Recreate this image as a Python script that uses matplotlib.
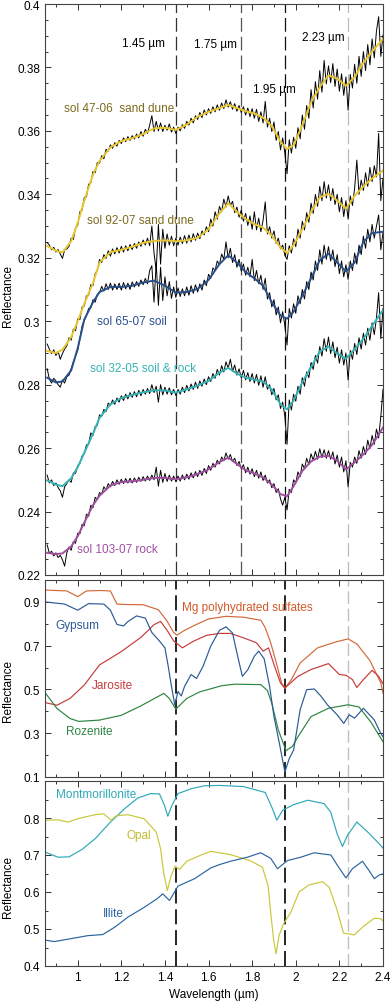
import numpy as np
import matplotlib
matplotlib.use("Agg")
import matplotlib.pyplot as plt
from matplotlib.ticker import MultipleLocator, FixedLocator, FuncFormatter

plt.rcParams['font.family'] = ['Liberation Sans', 'DejaVu Sans']
plt.rcParams['font.size'] = 8.5

# --- Pancam spectra (top panel) ---
# smooth fits
wl_fit = [0.86, 0.90, 0.93, 0.97, 1.00, 1.03, 1.07, 1.10, 1.15, 1.20, 1.25, 1.30, 1.35, 1.40,
          1.45, 1.50, 1.55, 1.60, 1.65, 1.69, 1.73, 1.77, 1.81, 1.85, 1.89, 1.93, 1.96, 1.99,
          2.03, 2.07, 2.11, 2.15, 2.19, 2.23, 2.27, 2.31, 2.35, 2.40]
fit_47 = [0.3237, 0.3222, 0.3217, 0.3252, 0.3310, 0.3380, 0.3462, 0.3505, 0.3548, 0.3568,
          0.3577, 0.3590, 0.3608, 0.3610, 0.3603, 0.3620, 0.3645, 0.3660, 0.3672, 0.3682,
          0.3672, 0.3662, 0.3655, 0.3642, 0.3615, 0.3565, 0.3543, 0.3555, 0.3618, 0.3690,
          0.3738, 0.3775, 0.3765, 0.3742, 0.3770, 0.3815, 0.3850, 0.3890]
fit_92 = [0.2906, 0.2900, 0.2910, 0.2950, 0.3000, 0.3055, 0.3120, 0.3185, 0.3218, 0.3225,
          0.3235, 0.3247, 0.3253, 0.3255, 0.3252, 0.3255, 0.3263, 0.3290, 0.3340, 0.3372,
          0.3345, 0.3322, 0.3306, 0.3295, 0.3270, 0.3232, 0.3215, 0.3240, 0.3290, 0.3344,
          0.3390, 0.3402, 0.3380, 0.3355, 0.3395, 0.3425, 0.3450, 0.3475]
fit_65 = [0.2822, 0.2807, 0.2810, 0.2845, 0.2915, 0.3005, 0.3060, 0.3092, 0.3108, 0.3108,
          0.3112, 0.3122, 0.3128, 0.3112, 0.3090, 0.3092, 0.3102, 0.3130, 0.3180, 0.3208,
          0.3185, 0.3155, 0.3135, 0.3112, 0.3060, 0.3018, 0.3008, 0.3030, 0.3080, 0.3135,
          0.3192, 0.3213, 0.3185, 0.3157, 0.3185, 0.3250, 0.3278, 0.3282]
fit_32 = [0.2498, 0.2485, 0.2480, 0.2505, 0.2540, 0.2585, 0.2645, 0.2695, 0.2738, 0.2758,
          0.2768, 0.2776, 0.2782, 0.2782, 0.2775, 0.2785, 0.2797, 0.2812, 0.2838, 0.2853,
          0.2835, 0.2822, 0.2816, 0.2810, 0.2785, 0.2738, 0.2722, 0.2750, 0.2808, 0.2855,
          0.2905, 0.2920, 0.2898, 0.2882, 0.2912, 0.2945, 0.2985, 0.3035]
fit_103 = [0.2270, 0.2266, 0.2268, 0.2290, 0.2322, 0.2365, 0.2420, 0.2450, 0.2482, 0.2493,
           0.2495, 0.2500, 0.2506, 0.2506, 0.2502, 0.2508, 0.2518, 0.2533, 0.2556, 0.2570,
           0.2550, 0.2530, 0.2520, 0.2508, 0.2485, 0.2455, 0.2448, 0.2480, 0.2528, 0.2558,
           0.2573, 0.2576, 0.2560, 0.2533, 0.2555, 0.2580, 0.2610, 0.2665]

# raw (noisy) spectra, every 0.01 um from 0.86 to 2.40
wl_raw = np.round(np.arange(0.86, 2.4005, 0.01), 2)
raw_47 = [0.3248, 0.3240, 0.3225, 0.3233, 0.3218, 0.3226, 0.3212, 0.3198, 0.3225, 0.3228,
          0.3236, 0.3262, 0.3258, 0.3295, 0.3302, 0.3345, 0.3350, 0.3390, 0.3392, 0.3432,
          0.3436, 0.3472, 0.3468, 0.3500, 0.3498, 0.3522, 0.3512, 0.3542, 0.3536, 0.3556,
          0.3545, 0.3563, 0.3552, 0.3570, 0.3560, 0.3578, 0.3566, 0.3582, 0.3570, 0.3585,
          0.3574, 0.3590, 0.3578, 0.3598, 0.3583, 0.3605, 0.3592, 0.3618, 0.3648, 0.3598,
          0.3630, 0.3600, 0.3625, 0.3598, 0.3618, 0.3602, 0.3622, 0.3596, 0.3612, 0.3592,
          0.3612, 0.3600, 0.3620, 0.3608, 0.3630, 0.3618, 0.3640, 0.3625, 0.3648, 0.3636,
          0.3658, 0.3642, 0.3666, 0.3650, 0.3670, 0.3655, 0.3676, 0.3660, 0.3682, 0.3665,
          0.3688, 0.3670, 0.3698, 0.3675, 0.3692, 0.3668, 0.3686, 0.3662, 0.3680, 0.3658,
          0.3676, 0.3650, 0.3672, 0.3645, 0.3670, 0.3640, 0.3668, 0.3630, 0.3660, 0.3625,
          0.3693, 0.3612, 0.3640, 0.3598, 0.3628, 0.3570, 0.3598, 0.3540, 0.3578, 0.3530,
          0.3465, 0.3572, 0.3530, 0.3580, 0.3545, 0.3610, 0.3575, 0.3650, 0.3605, 0.3680,
          0.3640, 0.3730, 0.3672, 0.3755, 0.3700, 0.3790, 0.3722, 0.3822, 0.3748, 0.3805,
          0.3752, 0.3812, 0.3740, 0.3795, 0.3725, 0.3780, 0.3712, 0.3770, 0.3665, 0.3778,
          0.3735, 0.3810, 0.3750, 0.3835, 0.3772, 0.3850, 0.3790, 0.3872, 0.3808, 0.3890,
          0.3830, 0.3915, 0.3960, 0.3835, 0.3902]
raw_92 = [0.2928, 0.2912, 0.2898, 0.2910, 0.2892, 0.2905, 0.2880, 0.2898, 0.2912, 0.2922,
          0.2948, 0.2940, 0.2975, 0.2970, 0.3008, 0.3005, 0.3045, 0.3048, 0.3080, 0.3082,
          0.3115, 0.3112, 0.3150, 0.3160, 0.3195, 0.3185, 0.3210, 0.3198, 0.3222, 0.3205,
          0.3228, 0.3212, 0.3232, 0.3215, 0.3236, 0.3218, 0.3238, 0.3222, 0.3242, 0.3226,
          0.3245, 0.3230, 0.3250, 0.3236, 0.3256, 0.3240, 0.3262, 0.3238, 0.3300, 0.3215,
          0.3160, 0.3305, 0.3180, 0.3290, 0.3230, 0.3275, 0.3240, 0.3268, 0.3238, 0.3262,
          0.3240, 0.3265, 0.3245, 0.3270, 0.3246, 0.3272, 0.3250, 0.3276, 0.3255, 0.3278,
          0.3260, 0.3285, 0.3272, 0.3298, 0.3282, 0.3322, 0.3300, 0.3345, 0.3322, 0.3362,
          0.3345, 0.3385, 0.3360, 0.3395, 0.3365, 0.3378, 0.3342, 0.3360, 0.3328, 0.3350,
          0.3315, 0.3340, 0.3302, 0.3332, 0.3290, 0.3345, 0.3288, 0.3325, 0.3282, 0.3318,
          0.3376, 0.3275, 0.3298, 0.3262, 0.3285, 0.3245, 0.3262, 0.3228, 0.3240, 0.3208,
          0.3195, 0.3238, 0.3215, 0.3260, 0.3235, 0.3290, 0.3262, 0.3315, 0.3288, 0.3342,
          0.3312, 0.3372, 0.3340, 0.3400, 0.3362, 0.3425, 0.3380, 0.3440, 0.3388, 0.3430,
          0.3380, 0.3418, 0.3368, 0.3400, 0.3345, 0.3390, 0.3330, 0.3380, 0.3322, 0.3395,
          0.3365, 0.3420, 0.3508, 0.3400, 0.3445, 0.3412, 0.3468, 0.3425, 0.3485, 0.3440,
          0.3490, 0.3455, 0.3592, 0.3380, 0.3450]
raw_65 = [0.2850, 0.2818, 0.2805, 0.2820, 0.2812, 0.2800, 0.2792, 0.2815, 0.2805, 0.2825,
          0.2830, 0.2850, 0.2872, 0.2890, 0.2908, 0.2945, 0.2985, 0.3002, 0.3018, 0.3040,
          0.3042, 0.3068, 0.3060, 0.3085, 0.3090, 0.3110, 0.3095, 0.3118, 0.3100, 0.3120,
          0.3098, 0.3118, 0.3100, 0.3120, 0.3098, 0.3122, 0.3102, 0.3120, 0.3100, 0.3124,
          0.3108, 0.3125, 0.3110, 0.3130, 0.3115, 0.3135, 0.3118, 0.3160, 0.3175, 0.3060,
          0.3185, 0.3050, 0.3170, 0.3065, 0.3140, 0.3080, 0.3125, 0.3072, 0.3108, 0.3075,
          0.3105, 0.3078, 0.3102, 0.3080, 0.3108, 0.3082, 0.3112, 0.3088, 0.3115, 0.3092,
          0.3118, 0.3098, 0.3130, 0.3112, 0.3148, 0.3135, 0.3168, 0.3160, 0.3190, 0.3178,
          0.3212, 0.3195, 0.3250, 0.3200, 0.3230, 0.3185, 0.3210, 0.3170, 0.3195, 0.3158,
          0.3180, 0.3145, 0.3170, 0.3140, 0.3195, 0.3128, 0.3160, 0.3118, 0.3145, 0.3100,
          0.3135, 0.3070, 0.3090, 0.3045, 0.3068, 0.3020, 0.3045, 0.2995, 0.3030, 0.2985,
          0.2925, 0.3040, 0.3010, 0.3055, 0.3025, 0.3080, 0.3055, 0.3100, 0.3070, 0.3125,
          0.3100, 0.3155, 0.3130, 0.3190, 0.3160, 0.3225, 0.3180, 0.3240, 0.3195, 0.3235,
          0.3190, 0.3225, 0.3172, 0.3210, 0.3150, 0.3190, 0.3140, 0.3178, 0.3132, 0.3190,
          0.3160, 0.3215, 0.3180, 0.3240, 0.3210, 0.3268, 0.3230, 0.3290, 0.3250, 0.3305,
          0.3262, 0.3300, 0.3335, 0.3225, 0.3280]
raw_32 = [0.2515, 0.2490, 0.2500, 0.2482, 0.2490, 0.2476, 0.2465, 0.2445, 0.2478, 0.2488,
          0.2500, 0.2492, 0.2522, 0.2520, 0.2545, 0.2552, 0.2575, 0.2582, 0.2610, 0.2612,
          0.2648, 0.2640, 0.2668, 0.2672, 0.2705, 0.2700, 0.2722, 0.2715, 0.2742, 0.2735,
          0.2752, 0.2738, 0.2758, 0.2745, 0.2765, 0.2750, 0.2770, 0.2755, 0.2775, 0.2760,
          0.2778, 0.2762, 0.2782, 0.2765, 0.2785, 0.2770, 0.2788, 0.2772, 0.2800, 0.2775,
          0.2795, 0.2745, 0.2800, 0.2768, 0.2792, 0.2770, 0.2790, 0.2768, 0.2785, 0.2766,
          0.2785, 0.2770, 0.2792, 0.2775, 0.2798, 0.2780, 0.2802, 0.2785, 0.2808, 0.2788,
          0.2812, 0.2795, 0.2818, 0.2800, 0.2825, 0.2810, 0.2835, 0.2820, 0.2848, 0.2830,
          0.2860, 0.2840, 0.2872, 0.2852, 0.2880, 0.2842, 0.2862, 0.2830, 0.2850, 0.2822,
          0.2845, 0.2815, 0.2838, 0.2810, 0.2835, 0.2805, 0.2832, 0.2798, 0.2828, 0.2792,
          0.2825, 0.2785, 0.2800, 0.2768, 0.2788, 0.2752, 0.2768, 0.2725, 0.2745, 0.2700,
          0.2612, 0.2752, 0.2720, 0.2770, 0.2748, 0.2795, 0.2770, 0.2822, 0.2795, 0.2840,
          0.2822, 0.2870, 0.2848, 0.2892, 0.2868, 0.2920, 0.2890, 0.2945, 0.2905, 0.2950,
          0.2898, 0.2935, 0.2885, 0.2918, 0.2868, 0.2910, 0.2862, 0.2900, 0.2815, 0.2908,
          0.2880, 0.2930, 0.2895, 0.2948, 0.2912, 0.2962, 0.2925, 0.2978, 0.2940, 0.2995,
          0.2958, 0.3010, 0.3090, 0.2945, 0.3040]
raw_103 = [0.2295, 0.2268, 0.2275, 0.2260, 0.2270, 0.2255, 0.2262, 0.2248, 0.2228, 0.2270,
           0.2288, 0.2278, 0.2305, 0.2300, 0.2332, 0.2330, 0.2360, 0.2355, 0.2392, 0.2385,
           0.2420, 0.2412, 0.2445, 0.2438, 0.2460, 0.2455, 0.2478, 0.2468, 0.2488, 0.2478,
           0.2495, 0.2482, 0.2500, 0.2486, 0.2502, 0.2488, 0.2504, 0.2490, 0.2505, 0.2490,
           0.2506, 0.2492, 0.2508, 0.2495, 0.2510, 0.2496, 0.2512, 0.2498, 0.2515, 0.2500,
           0.2540, 0.2480, 0.2530, 0.2492, 0.2520, 0.2495, 0.2515, 0.2496, 0.2512, 0.2494,
           0.2512, 0.2496, 0.2515, 0.2500, 0.2518, 0.2502, 0.2522, 0.2506, 0.2526, 0.2510,
           0.2530, 0.2514, 0.2536, 0.2520, 0.2545, 0.2530, 0.2552, 0.2540, 0.2562, 0.2550,
           0.2572, 0.2560, 0.2585, 0.2565, 0.2580, 0.2558, 0.2568, 0.2545, 0.2558, 0.2535,
           0.2548, 0.2522, 0.2540, 0.2518, 0.2535, 0.2510, 0.2530, 0.2505, 0.2525, 0.2498,
           0.2515, 0.2490, 0.2500, 0.2475, 0.2488, 0.2460, 0.2472, 0.2440, 0.2420, 0.2445,
           0.2405, 0.2470, 0.2460, 0.2500, 0.2490, 0.2525, 0.2510, 0.2550, 0.2535, 0.2568,
           0.2548, 0.2582, 0.2562, 0.2590, 0.2565, 0.2598, 0.2570, 0.2595, 0.2568, 0.2592,
           0.2565, 0.2588, 0.2550, 0.2578, 0.2540, 0.2572, 0.2525, 0.2560, 0.2478, 0.2555,
           0.2540, 0.2572, 0.2552, 0.2592, 0.2568, 0.2605, 0.2580, 0.2625, 0.2598, 0.2640,
           0.2612, 0.2660, 0.2632, 0.2700, 0.2785]

# --- lab spectra: sulfates (middle panel) ---
mg_wl = [0.85, 0.95, 1.00, 1.04, 1.10, 1.15, 1.18, 1.22, 1.30, 1.37, 1.41, 1.44, 1.455, 1.49,
         1.54, 1.60, 1.68, 1.76, 1.84, 1.86, 1.885, 1.915, 1.935, 1.95, 1.98, 2.02, 2.10, 2.18,
         2.24, 2.28, 2.34, 2.39, 2.40]
mg_val = [0.954, 0.950, 0.924, 0.950, 0.952, 0.950, 0.890, 0.888, 0.887, 0.864, 0.812, 0.760,
          0.748, 0.770, 0.795, 0.822, 0.834, 0.830, 0.816, 0.782, 0.713, 0.606, 0.529, 0.506,
          0.545, 0.621, 0.690, 0.716, 0.731, 0.708, 0.632, 0.529, 0.483]
gyp_wl = [0.85, 0.94, 1.00, 1.05, 1.12, 1.15, 1.18, 1.21, 1.23, 1.27, 1.31, 1.34, 1.375, 1.40,
          1.415, 1.43, 1.445, 1.46, 1.475, 1.49, 1.52, 1.545, 1.575, 1.61, 1.65, 1.68, 1.71,
          1.73, 1.755, 1.78, 1.81, 1.83, 1.855, 1.88, 1.90, 1.925, 1.95, 1.97, 1.99, 2.02, 2.05,
          2.085, 2.115, 2.145, 2.19, 2.22, 2.245, 2.27, 2.31, 2.36, 2.39, 2.40]
gyp_val = [0.900, 0.890, 0.862, 0.892, 0.890, 0.862, 0.797, 0.790, 0.810, 0.836, 0.826, 0.760,
           0.721, 0.690, 0.606, 0.514, 0.430, 0.491, 0.470, 0.514, 0.568, 0.550, 0.606, 0.698,
           0.770, 0.786, 0.758, 0.667, 0.560, 0.590, 0.652, 0.675, 0.640, 0.514, 0.376, 0.253,
           0.123, 0.184, 0.223, 0.407, 0.499, 0.502, 0.470, 0.430, 0.384, 0.345, 0.384, 0.369,
           0.414, 0.361, 0.299, 0.284]
jar_wl = [0.85, 0.905, 0.965, 1.03, 1.10, 1.20, 1.29, 1.35, 1.38, 1.41, 1.44, 1.48, 1.53, 1.59,
          1.65, 1.70, 1.76, 1.82, 1.85, 1.875, 1.90, 1.93, 1.95, 2.01, 2.07, 2.15, 2.20, 2.23,
          2.26, 2.28, 2.31, 2.35, 2.38, 2.40]
jar_val = [0.440, 0.428, 0.459, 0.520, 0.612, 0.673, 0.738, 0.796, 0.811, 0.770, 0.722, 0.690,
           0.720, 0.747, 0.756, 0.756, 0.736, 0.713, 0.675, 0.690, 0.614, 0.529, 0.506, 0.560,
           0.591, 0.618, 0.568, 0.565, 0.545, 0.509, 0.545, 0.587, 0.560, 0.526]
roz_wl = [0.85, 0.905, 0.965, 1.005, 1.10, 1.20, 1.29, 1.365, 1.395, 1.42, 1.45, 1.50, 1.56,
          1.66, 1.72, 1.84, 1.87, 1.89, 1.92, 1.955, 1.985, 2.01, 2.07, 2.15, 2.24, 2.29, 2.345,
          2.40]
roz_val = [0.486, 0.413, 0.367, 0.354, 0.360, 0.382, 0.425, 0.466, 0.482, 0.459, 0.410, 0.459,
           0.489, 0.517, 0.524, 0.522, 0.495, 0.437, 0.315, 0.221, 0.240, 0.284, 0.376, 0.414,
           0.430, 0.420, 0.350, 0.261]

# --- lab spectra: silicates (bottom panel) ---
mont_wl = [0.85, 0.91, 0.96, 1.02, 1.08, 1.15, 1.215, 1.275, 1.335, 1.375, 1.398, 1.413, 1.432,
           1.46, 1.52, 1.58, 1.65, 1.76, 1.86, 1.893, 1.913, 1.94, 1.99, 2.055, 2.13, 2.16, 2.19,
           2.214, 2.237, 2.28, 2.33, 2.375, 2.40]
mont_val = [0.708, 0.694, 0.695, 0.715, 0.744, 0.789, 0.825, 0.854, 0.866, 0.865, 0.834, 0.805,
            0.834, 0.866, 0.879, 0.887, 0.888, 0.885, 0.869, 0.825, 0.794, 0.821, 0.836, 0.848,
            0.839, 0.816, 0.757, 0.723, 0.753, 0.789, 0.762, 0.735, 0.719]
opal_wl = [0.85, 0.91, 0.957, 1.00, 1.08, 1.12, 1.153, 1.176, 1.23, 1.305, 1.36, 1.38, 1.395,
           1.411, 1.429, 1.447, 1.467, 1.50, 1.57, 1.61, 1.70, 1.79, 1.847, 1.873, 1.888, 1.90,
           1.91, 1.923, 1.944, 1.977, 2.015, 2.06, 2.123, 2.153, 2.188, 2.219, 2.268, 2.314,
           2.36, 2.39, 2.40]
opal_val = [0.794, 0.795, 0.789, 0.798, 0.809, 0.811, 0.794, 0.806, 0.809, 0.798, 0.762, 0.717,
            0.649, 0.604, 0.645, 0.670, 0.661, 0.683, 0.701, 0.710, 0.701, 0.685, 0.667, 0.617,
            0.527, 0.464, 0.433, 0.482, 0.514, 0.545, 0.600, 0.619, 0.628, 0.613, 0.554, 0.489,
            0.484, 0.509, 0.529, 0.528, 0.522]
ill_wl = [0.85, 0.893, 0.97, 1.046, 1.115, 1.17, 1.23, 1.306, 1.367, 1.39, 1.421, 1.46, 1.536,
          1.61, 1.65, 1.70, 1.778, 1.839, 1.885, 1.916, 1.962, 2.023, 2.084, 2.161, 2.191, 2.23,
          2.26, 2.306, 2.337, 2.36, 2.383, 2.40]
ill_val = [0.470, 0.466, 0.474, 0.482, 0.485, 0.505, 0.532, 0.559, 0.583, 0.595, 0.577, 0.616,
           0.636, 0.665, 0.674, 0.683, 0.694, 0.706, 0.691, 0.663, 0.685, 0.694, 0.706, 0.700,
           0.672, 0.638, 0.663, 0.683, 0.657, 0.636, 0.646, 0.649]

band_pos = [1.45, 1.75, 1.95, 2.24]
band_labels = ["1.45 \u00b5m", "1.75 \u00b5m", "1.95 \u00b5m", "2.23 \u00b5m"]

# figure, 390 x 1004 px
fig = plt.figure(figsize=(3.9, 10.04), dpi=100)
W, H = 390.0, 1004.0
x0, x1 = 45, 383


def make_ax(top, bottom):
    return fig.add_axes([x0 / W, 1 - bottom / H, (x1 - x0) / W, (bottom - top) / H])


ax1 = make_ax(5, 576)
ax2 = make_ax(581, 778)
ax3 = make_ax(782, 967)

fmt = FuncFormatter(lambda v, p: "%g" % round(v, 3))


def style(ax, ymaj, ymin, show_x):
    ax.set_xlim(0.85, 2.4)
    ax.xaxis.set_major_locator(MultipleLocator(0.2))
    ax.xaxis.set_minor_locator(MultipleLocator(0.1))
    ax.yaxis.set_major_locator(FixedLocator(ymaj))
    ax.yaxis.set_minor_locator(MultipleLocator(ymin))
    ax.yaxis.set_major_formatter(fmt)
    ax.xaxis.set_major_formatter(fmt)
    ax.tick_params(which='both', direction='in', top=True, right=True, colors='#333333',
                   labelcolor='black', labelsize=8.5, width=0.7)
    ax.tick_params(which='major', length=4)
    ax.tick_params(which='minor', length=2.2)
    if not show_x:
        ax.tick_params(labelbottom=False)
    for s in ax.spines.values():
        s.set_color('#444444')
        s.set_linewidth(0.8)


# top panel
style(ax1, [0.22, 0.24, 0.26, 0.28, 0.30, 0.32, 0.34, 0.36, 0.38, 0.40], 0.005, False)
ax1.set_ylim(0.22, 0.4)
ax1.axvline(band_pos[0], color='#333333', lw=0.9, dashes=(11, 4))
ax1.axvline(band_pos[1], color='#555555', lw=0.9, dashes=(11, 4))
ax1.axvline(band_pos[2], color='#111111', lw=0.9, dashes=(11, 4))
ax1.axvline(band_pos[3], color='#bbbbbb', lw=0.9, dashes=(11, 4))

for raw in [raw_47, raw_92, raw_65, raw_32, raw_103]:
    ax1.plot(wl_raw, raw, color='black', lw=0.7)
ax1.plot(wl_fit, fit_47, color='#e8c630', lw=1.4)
ax1.plot(wl_fit, fit_92, color='#e8c630', lw=1.4)
ax1.plot(wl_fit, fit_65, color='#264f8c', lw=1.4)
ax1.plot(wl_fit, fit_32, color='#35b2b4', lw=1.4)
ax1.plot(wl_fit, fit_103, color='#a04ea0', lw=1.4)

ax1.text(1.30, 0.3877, band_labels[0], ha='center', va='center')
ax1.text(1.63, 0.3874, band_labels[1], ha='center', va='center')
ax1.text(1.903, 0.3732, band_labels[2], ha='center', va='center')
ax1.text(2.127, 0.3897, band_labels[3], ha='center', va='center')

ax1.text(1.19, 0.3672, "sol 47-06  sand dune", color='#7d6b1e', ha='center', va='center')
ax1.text(1.288, 0.3319, "sol 92-07 sand dune", color='#7d6b1e', ha='center', va='center')
ax1.text(1.25, 0.3001, "sol 65-07 soil", color='#2a4f8f', ha='center', va='center')
ax1.text(1.30, 0.2851, "sol 32-05 soil & rock", color='#35b2b4', ha='center', va='center')
ax1.text(1.184, 0.2283, "sol 103-07 rock", color='#a04ea0', ha='center', va='center')
ax1.set_ylabel("Reflectance")
ax1.yaxis.set_label_coords(-0.092, 0.49)

# middle panel
style(ax2, [0.1, 0.3, 0.5, 0.7, 0.9], 0.1, False)
ax2.set_ylim(0.1, 1.0)
ax2.axvline(band_pos[0], color='black', lw=1.2, dashes=(9, 3.5))
ax2.axvline(band_pos[2], color='black', lw=1.2, dashes=(9, 3.5))
ax2.axvline(band_pos[3], color='#c0c0c0', lw=1.0, dashes=(9, 3.5))
ax2.plot(mg_wl, mg_val, color='#d2683a', lw=0.85)
ax2.plot(jar_wl, jar_val, color='#c83a3a', lw=0.85)
ax2.plot(roz_wl, roz_val, color='#2e8440', lw=0.85)
ax2.plot(gyp_wl, gyp_val, color='#2b5a94', lw=0.85)
ax2.text(1.778, 0.877, "Mg polyhydrated sulfates", color='#d05a2a', ha='center', va='center')
ax2.text(1.0, 0.796, "Gypsum", color='#2b5a94', ha='center', va='center')
ax2.text(1.158, 0.52, "Jarosite", color='#c83a3a', ha='center', va='center')
ax2.text(1.055, 0.308, "Rozenite", color='#2e8440', ha='center', va='center')
ax2.set_ylabel("Reflectance")
ax2.yaxis.set_label_coords(-0.092, 0.44)

# bottom panel
style(ax3, [0.4, 0.5, 0.6, 0.7, 0.8], 0.05, True)
ax3.set_ylim(0.4, 0.9)
ax3.axvline(band_pos[0], color='black', lw=1.2, dashes=(9, 3.5))
ax3.axvline(band_pos[2], color='black', lw=1.2, dashes=(9, 3.5))
ax3.axvline(band_pos[3], color='#c0c0c0', lw=1.0, dashes=(9, 3.5))
ax3.plot(mont_wl, mont_val, color='#2ea8b8', lw=0.85)
ax3.plot(opal_wl, opal_val, color='#c8c83a', lw=0.85)
ax3.plot(ill_wl, ill_val, color='#2a64a0', lw=0.85)
ax3.text(1.085, 0.866, "Montmorillonite", color='#2ea8b8', ha='center', va='center')
ax3.text(1.28, 0.755, "Opal", color='#c0bc30', ha='center', va='center')
ax3.text(1.163, 0.544, "Illite", color='#2a64a0', ha='center', va='center')
ax3.set_ylabel("Reflectance")
ax3.yaxis.set_label_coords(-0.092, 0.43)
ax3.set_xlabel("Wavelength (\u00b5m)")

fig.savefig("out.png", dpi=100)
